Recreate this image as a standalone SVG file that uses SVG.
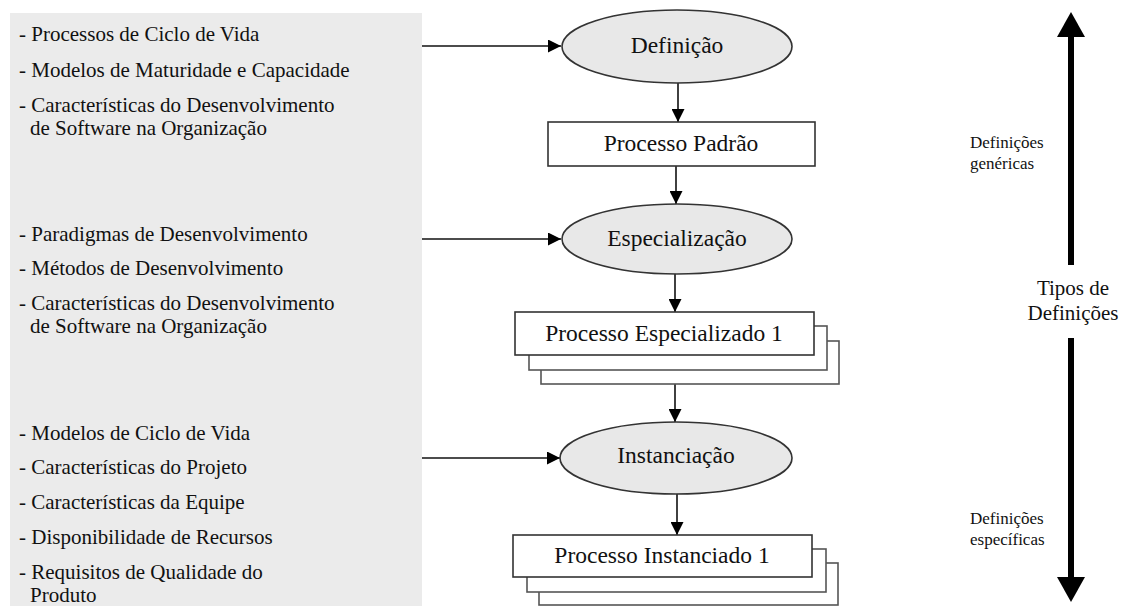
<svg xmlns="http://www.w3.org/2000/svg" width="1121" height="606" viewBox="0 0 1121 606">
<style>
.lt{font-family:"Liberation Serif","Times New Roman",serif;font-size:21px;fill:#111}
.nt{font-family:"Liberation Serif","Times New Roman",serif;font-size:23.5px;fill:#111;text-anchor:middle}
.st{font-family:"Liberation Serif","Times New Roman",serif;font-size:17px;fill:#111}
.mt{font-family:"Liberation Serif","Times New Roman",serif;font-size:21px;fill:#111;text-anchor:middle}
.ell{fill:#e8e8e8;stroke:#333;stroke-width:1.6}
.box{fill:#fff;stroke:#333;stroke-width:1.6}
.sh{fill:#fff;stroke:#555;stroke-width:1.6}
.con{fill:none;stroke:#111;stroke-width:1.6}
.thick{fill:none;stroke:#000;stroke-width:6}
</style>
<defs>
<marker id="ah" markerUnits="userSpaceOnUse" markerWidth="13" markerHeight="13" refX="13" refY="6.5" orient="auto">
<path d="M0,0 L13,6.5 L0,13 z" fill="#000"/>
</marker>
</defs>
<rect width="1121" height="606" fill="#fff"/>
<g id="panel">
<rect x="10" y="13" width="412" height="593" fill="#ebebeb"/>
<text class="lt" x="19" y="40.5">- Processos de Ciclo de Vida</text>
<text class="lt" x="19" y="77">- Modelos de Maturidade e Capacidade</text>
<text class="lt" x="19" y="112">- Características do Desenvolvimento</text>
<text class="lt" x="30" y="135">de Software na Organização</text>
<text class="lt" x="19" y="240.5">- Paradigmas de Desenvolvimento</text>
<text class="lt" x="19" y="275">- Métodos de Desenvolvimento</text>
<text class="lt" x="19" y="310">- Características do Desenvolvimento</text>
<text class="lt" x="30" y="333">de Software na Organização</text>
<text class="lt" x="19" y="439.5">- Modelos de Ciclo de Vida</text>
<text class="lt" x="19" y="474">- Características do Projeto</text>
<text class="lt" x="19" y="509">- Características da Equipe</text>
<text class="lt" x="19" y="544">- Disponibilidade de Recursos</text>
<text class="lt" x="19" y="579">- Requisitos de Qualidade do</text>
<text class="lt" x="30" y="602">Produto</text>
</g>
<g id="connectors">
<line class="con" x1="422" y1="46" x2="561" y2="46" marker-end="url(#ah)"/>
<line class="con" x1="422" y1="239" x2="561" y2="239" marker-end="url(#ah)"/>
<line class="con" x1="422" y1="458" x2="560" y2="458" marker-end="url(#ah)"/>
<line class="con" x1="678" y1="83" x2="678" y2="122" marker-end="url(#ah)"/>
<line class="con" x1="676" y1="166" x2="676" y2="204" marker-end="url(#ah)"/>
<line class="con" x1="675" y1="274" x2="675" y2="312" marker-end="url(#ah)"/>
<line class="con" x1="675" y1="384" x2="675" y2="422" marker-end="url(#ah)"/>
<line class="con" x1="677" y1="494" x2="677" y2="535" marker-end="url(#ah)"/>
</g>
<g id="definicao">
<ellipse class="ell" cx="677" cy="46.5" rx="115" ry="36.5"/>
<text class="nt" x="677" y="53">Definição</text>
</g>
<g id="processo-padrao">
<rect class="box" x="548" y="122" width="267" height="44"/>
<text class="nt" x="681" y="151">Processo Padrão</text>
</g>
<g id="especializacao">
<ellipse class="ell" cx="677" cy="239" rx="115" ry="35"/>
<text class="nt" x="677" y="246">Especialização</text>
</g>
<g id="processo-especializado">
<rect class="sh" x="541" y="341" width="298" height="43"/>
<rect class="sh" x="529" y="326" width="298" height="44"/>
<rect class="box" x="515" y="312" width="299" height="43"/>
<text class="nt" x="664" y="341">Processo Especializado 1</text>
</g>
<g id="instanciacao">
<ellipse class="ell" cx="676" cy="458" rx="116" ry="36"/>
<text class="nt" x="676" y="463">Instanciação</text>
</g>
<g id="processo-instanciado">
<rect class="sh" x="539" y="563" width="299" height="42"/>
<rect class="sh" x="527" y="549" width="299" height="43"/>
<rect class="box" x="513" y="535" width="299" height="42"/>
<text class="nt" x="662" y="563">Processo Instanciado 1</text>
</g>
<g id="tipos">
<line class="thick" x1="1071" y1="34" x2="1071" y2="265"/>
<path d="M1071,12 L1085,37 L1057,37 z" fill="#000"/>
<line class="thick" x1="1071" y1="338" x2="1071" y2="580"/>
<path d="M1071,602 L1085,577 L1057,577 z" fill="#000"/>
<text class="mt" x="1073" y="295">Tipos de</text>
<text class="mt" x="1073" y="320">Definições</text>
<text class="st" x="970" y="148">Definições</text>
<text class="st" x="970" y="169">genéricas</text>
<text class="st" x="970" y="524">Definições</text>
<text class="st" x="970" y="545">específicas</text>
</g>
</svg>
